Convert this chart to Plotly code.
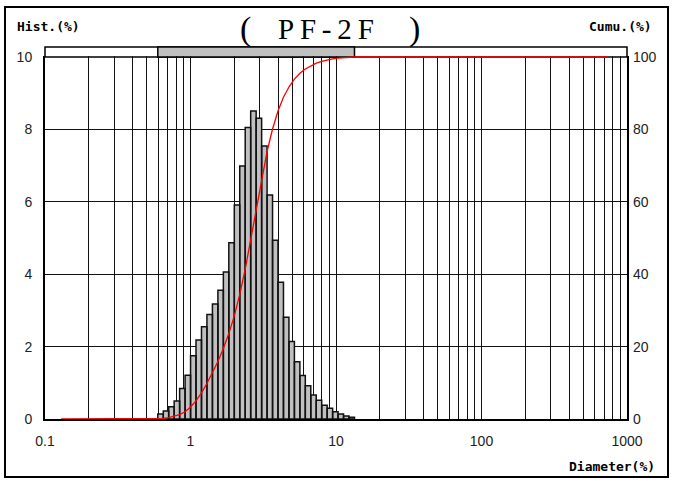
import plotly.graph_objects as go

# ---- data ----
# bin edges (diameter)
bin_edges = [0.596, 0.650, 0.708, 0.772, 0.842, 0.918, 1.001, 1.091, 1.190, 1.297,
             1.415, 1.543, 1.682, 1.834, 2.000, 2.180, 2.377, 2.592, 2.826, 3.082,
             3.360, 3.663, 3.994, 4.355, 4.748, 5.177, 5.645, 6.152, 6.709, 7.314,
             7.975, 8.695, 9.480, 10.33, 11.27, 12.29, 13.40]
hist_values = [0.14, 0.22, 0.34, 0.50, 0.84, 1.21, 1.75, 2.18, 2.55, 2.89,
               3.18, 3.56, 4.06, 4.87, 5.91, 6.99, 8.05, 8.51, 8.31, 7.54,
               6.19, 4.94, 3.78, 2.81, 2.14, 1.58, 1.20, 0.92, 0.66, 0.52,
               0.38, 0.30, 0.20, 0.14, 0.08, 0.05]
cumu_x = [0.129] + bin_edges + [735]
cumu_values = [0, 0, 0.14, 0.36, 0.70, 1.2, 2.0, 3.3, 5.0, 7.2, 9.8, 12.7, 15.9, 19.5,
               23.6, 28.5, 34.4, 41.4, 49.5, 58.0, 66.4, 73.9, 80.1, 85.1, 88.9,
               91.7, 93.9, 95.5, 96.7, 97.6, 98.3, 98.8, 99.2, 99.5, 99.7, 99.85,
               99.95, 100, 100]
x_tickvals = [0.1, 0.2, 0.3, 0.4, 0.5, 0.6, 0.7, 0.8, 0.9,
              1, 2, 3, 4, 5, 6, 7, 8, 9,
              10, 20, 30, 40, 50, 60, 70, 80, 90,
              100, 200, 300, 400, 500, 600, 700, 800, 900, 1000]
x_ticklabels = {0.1: "0.1", 1: "1", 10: "10", 100: "100", 1000: "1000"}
y_left_ticks = [0, 2, 4, 6, 8, 10]
y_right_ticks = [0, 20, 40, 60, 80, 100]

# ---- geometry helpers ----
W, H = 675, 484
L, R, T, B = 45, 48, 56, 65
PW, PH = W - L - R, H - T - B
Y_TOP = 10 * PH / 362.0   # 10 sits at pixel row 57, just below the plot top


def px(x):
    return (x - L) / PW


def py(y):
    return (H - B - y) / PH


# build bar polygons
bx, by = [], []
for i, h in enumerate(hist_values):
    e0, e1 = bin_edges[i], bin_edges[i + 1]
    bx += [e0, e0, e1, e1, e0, None]
    by += [0, h, h, 0, 0, None]

fig = go.Figure()
fig.add_trace(go.Scatter(x=bx, y=by, mode="lines", fill="toself",
                         fillcolor="#c0c0c0", line=dict(color="#111", width=1.5),
                         hoverinfo="skip", showlegend=False))
fig.add_trace(go.Scatter(x=cumu_x, y=cumu_values, mode="lines", yaxis="y2",
                         line=dict(color="#ff0000", width=1.3), showlegend=False))

tickfont = dict(family="Liberation Sans, Arial, sans-serif", size=14, color="#222")
fig.update_layout(
    width=W, height=H,
    margin=dict(l=L, r=R, t=T, b=B, pad=0),
    paper_bgcolor="white", plot_bgcolor="white",
    xaxis=dict(type="log", range=[-1, 3], tickvals=x_tickvals,
               ticktext=[x_ticklabels.get(v, "") for v in x_tickvals],
               showgrid=True, gridcolor="#111", gridwidth=1.3,
               showline=True, linecolor="black", linewidth=2, mirror=False,
               layer="below traces",
               ticks="", tickfont=tickfont, ticklabelstandoff=8, zeroline=False),
    yaxis=dict(range=[0, Y_TOP], tickvals=y_left_ticks, showgrid=True,
               gridcolor="#111", gridwidth=1.3, showline=True,
               linecolor="black", linewidth=2, mirror=True, ticks="",
               layer="below traces",
               tickfont=tickfont, ticklabelstandoff=8, zeroline=False),
    yaxis2=dict(range=[0, Y_TOP * 10], tickvals=y_right_ticks, overlaying="y",
                side="right", showgrid=False, showline=False, ticks="",
                tickfont=tickfont, ticklabelstandoff=5, zeroline=False),
)

# top strip showing the distribution range
strip_top = py(47)
fig.add_shape(type="rect", xref="paper", yref="paper", x0=0, x1=1, y0=py(57),
              y1=strip_top, line=dict(color="black", width=1.5), fillcolor="white",
              layer="below")
fig.add_shape(type="rect", xref="x", yref="paper",
              x0=bin_edges[0], x1=bin_edges[-1],
              y0=py(57), y1=strip_top, line=dict(color="black", width=1.5),
              fillcolor="#c0c0c0", layer="below")
# outer frame
fig.add_shape(type="rect", xref="paper", yref="paper", x0=px(5), x1=px(668),
              y0=py(477), y1=py(7), line=dict(color="black", width=2))

lab = dict(family="DejaVu Sans Mono, monospace", size=13, color="black")
serif = "Liberation Serif, Times New Roman, serif"
ann = [
    dict(text="<b>Hist.(%)</b>", x=px(15), y=py(27), xanchor="left", yanchor="middle", font=lab),
    dict(text="<b>Cumu.(%)</b>", x=px(654), y=py(27), xanchor="right", yanchor="middle", font=lab),
    dict(text="<b>Diameter(%)</b>", x=px(657), y=py(466), xanchor="right", yanchor="middle", font=lab),
    dict(text="(", x=px(245), y=py(29), xanchor="center", yanchor="middle",
         font=dict(family=serif, size=34, color="black")),
    dict(text=")", x=px(414), y=py(29), xanchor="center", yanchor="middle",
         font=dict(family=serif, size=34, color="black")),
    dict(text="P\u2009F\u2009-\u20092\u2009F", x=px(326), y=py(29), xanchor="center", yanchor="middle",
         font=dict(family=serif, size=29, color="black")),
]
for a in ann:
    a.update(xref="paper", yref="paper", showarrow=False)
fig.update_layout(annotations=ann)

fig.write_html("out.html", post_script="document.body.style.margin='0';",
               config={"displayModeBar": False})
